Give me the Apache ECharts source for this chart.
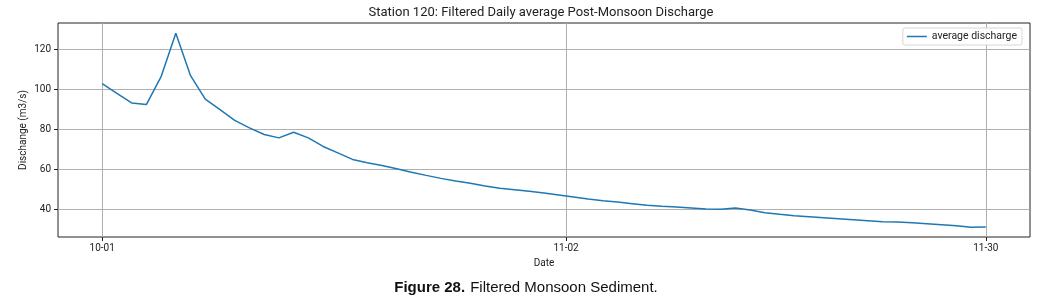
<!DOCTYPE html>
<html>
<head>
<meta charset="utf-8">
<script src="https://cdn.jsdelivr.net/npm/echarts@6/dist/echarts.min.js"></script>
<style>
html,body{margin:0;padding:0;background:#fff;}
#chart{width:1048px;height:304px;}
</style>
</head>
<body>
<div id="chart"></div>
<script>
// average discharge values (m3/s), one per day, Oct 1 .. Nov 30
const discharge = [
  103.0, 98.1, 93.3, 92.5, 106.5, 128.3, 107.0, 95.2, 90.0, 84.6,
  80.8, 77.5, 75.8, 78.6, 75.8, 71.5, 68.3, 65.0, 63.3, 62.0,
  60.3, 58.6, 57.0, 55.5, 54.2, 53.0, 51.7, 50.6, 49.8, 49.0,
  48.2, 47.2, 46.2, 45.2, 44.3, 43.6, 42.8, 42.0, 41.5, 41.1,
  40.6, 40.1, 40.0, 40.6, 39.6, 38.3, 37.5, 36.8, 36.3, 35.8,
  35.3, 34.8, 34.3, 33.8, 33.6, 33.3, 32.8, 32.3, 31.8, 31.0,
  31.1
];
// x tick labels and their day-index positions
const xTickLabels = ['10-01', '11-02', '11-30'];
const xTickValues = [0, 31.5, 60];
// y tick values
const yTickValues = [40, 60, 80, 100, 120];

const seriesData = discharge.map((v, i) => [i, v]);
const xLabelMap = {};
xTickValues.forEach((v, i) => { xLabelMap[v] = xTickLabels[i]; });

const chart = echarts.init(document.getElementById('chart'), null, {renderer: 'canvas'});
const font = 'Roboto, "DejaVu Sans", sans-serif';
chart.setOption({
  animation: false,
  backgroundColor: '#ffffff',
  title: [
    {
      text: 'Station 120: Filtered Daily average Post-Monsoon Discharge',
      left: 541, top: 6, padding: 0, textAlign: 'center',
      textStyle: {fontFamily: font, fontSize: 13, fontWeight: 'normal', color: '#222'}
    },
    {
      text: '{b|Figure 28.} {n|Filtered Monsoon Sediment.}',
      left: 526, top: 279, padding: 0, textAlign: 'center',
      textStyle: {
        rich: {
          b: {fontFamily: '"Liberation Sans", Arial, sans-serif', fontSize: 15, fontWeight: 'bold', color: '#111'},
          n: {fontFamily: '"Liberation Sans", Arial, sans-serif', fontSize: 15, fontWeight: 'normal', color: '#111'}
        }
      }
    }
  ],
  legend: {
    right: 26, top: 28,
    orient: 'vertical',
    itemWidth: 20, itemHeight: 1.5,
    itemGap: 4,
    padding: [3, 5, 3, 4],
    borderColor: '#d6d6d6', borderWidth: 1, borderRadius: 2,
    backgroundColor: 'rgba(255,255,255,0.85)',
    textStyle: {fontFamily: font, fontSize: 10.5, color: '#222'},
    data: [{name: 'average discharge', icon: 'rect'}]
  },
  grid: {
    left: 58, right: 18, top: 23, bottom: 67,
    show: true, borderColor: '#222', borderWidth: 1, backgroundColor: 'transparent'
  },
  xAxis: {
    type: 'value', min: -3, max: 63,
    name: 'Date', nameLocation: 'middle', nameGap: 21, nameMoveOverlap: false,
    nameTextStyle: {fontFamily: font, fontSize: 10, color: '#222'},
    axisLine: {show: false, onZero: false},
    axisTick: {show: true, customValues: xTickValues, length: 4, lineStyle: {color: '#222'}},
    axisLabel: {customValues: xTickValues, fontFamily: font, fontSize: 10, color: '#222', margin: 6,
      formatter: v => xLabelMap[v] || ''},
    splitLine: {show: true, lineStyle: {color: '#b0b0b0', width: 1}}
  },
  yAxis: {
    type: 'value', min: 26.1, max: 133.4,
    name: 'Dischange (m3/s)', nameLocation: 'middle', nameGap: 30, nameMoveOverlap: false,
    nameTextStyle: {fontFamily: font, fontSize: 10, color: '#222'},
    axisLine: {show: false, onZero: false},
    axisTick: {show: true, customValues: yTickValues, length: 4, lineStyle: {color: '#222'}},
    axisLabel: {customValues: yTickValues, fontFamily: font, fontSize: 10, color: '#222', margin: 7},
    splitLine: {show: true, lineStyle: {color: '#b0b0b0', width: 1}}
  },
  series: [{
    name: 'average discharge',
    type: 'line',
    data: seriesData,
    showSymbol: false,
    symbol: 'none',
    lineStyle: {color: '#1f77b4', width: 1.5},
    itemStyle: {color: '#1f77b4'}
  }]
});
</script>
</body>
</html>
